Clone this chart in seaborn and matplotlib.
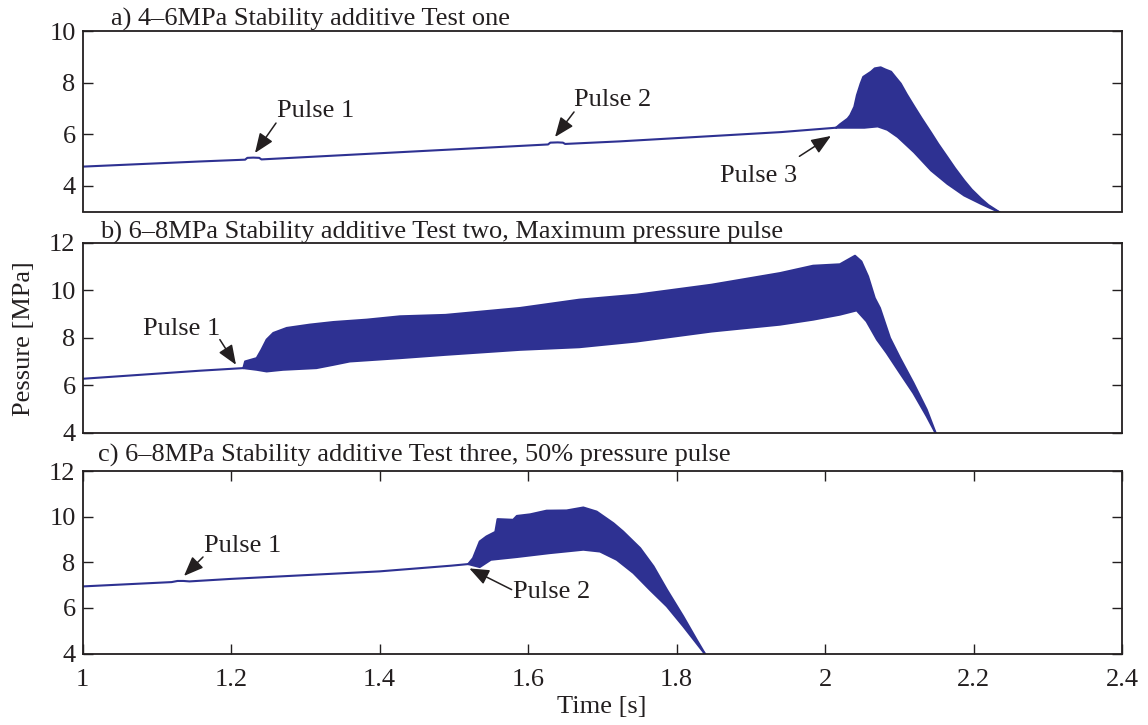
import numpy as np
import matplotlib
matplotlib.use("Agg")
import matplotlib.pyplot as plt
import seaborn as sns

# ---------------------------------------------------------------- data
TIME_TICKS = [1.0, 1.2, 1.4, 1.6, 1.8, 2.0, 2.2, 2.4]
TIME_LABELS = ["1", "1.2", "1.4", "1.6", "1.8", "2", "2.2", "2.4"]

PANEL_TITLES = [
    "a) 4\u20136MPa Stability additive Test one",
    "b) 6\u20138MPa Stability additive Test two, Maximum pressure pulse",
    "c) 6\u20138MPa Stability additive Test three, 50% pressure pulse",
]

# a) steady trace before the instability, then the oscillation envelope [s], [MPa]
a_base_t = [1.000, 1.158, 1.219, 1.222, 1.230, 1.238, 1.241, 1.627, 1.630, 1.640,
            1.647, 1.650, 1.724, 1.941, 2.015]
a_base_p = [4.74, 4.94, 5.01, 5.08, 5.09, 5.08, 5.02, 5.60, 5.67, 5.68,
            5.67, 5.62, 5.72, 6.08, 6.25]
a_up_t = [2.015, 2.0202, 2.0305, 2.034, 2.0395, 2.043, 2.048, 2.0515, 2.062, 2.067,
          2.075, 2.081, 2.089, 2.0946, 2.102, 2.110, 2.120, 2.130, 2.143, 2.1525,
          2.165, 2.175, 2.1875, 2.1976, 2.210, 2.220, 2.235]
a_up_p = [6.25, 6.38, 6.60, 6.73, 7.06, 7.51, 7.96, 8.22, 8.42, 8.55,
          8.59, 8.51, 8.42, 8.22, 7.96, 7.55, 7.08, 6.62, 6.05, 5.62,
          5.10, 4.68, 4.20, 3.85, 3.50, 3.25, 2.97]
a_lo_t = [2.015, 2.053, 2.071, 2.084, 2.098, 2.120, 2.143, 2.165, 2.1875, 2.210, 2.235]
a_lo_p = [6.25, 6.25, 6.30, 6.17, 5.89, 5.30, 4.59, 4.07, 3.62, 3.30, 2.97]

# b)
b_base_t = [1.000, 1.158, 1.2166]
b_base_p = [6.27, 6.61, 6.72]
b_up_t = [1.2166, 1.219, 1.2346, 1.241, 1.248, 1.257, 1.275, 1.306, 1.338, 1.383,
          1.4276, 1.489, 1.589, 1.669, 1.746, 1.847, 1.9394, 1.984, 2.020, 2.0404,
          2.049, 2.058, 2.067, 2.074, 2.0875, 2.101, 2.119, 2.137, 2.1495]
b_up_p = [6.72, 7.00, 7.14, 7.49, 7.92, 8.20, 8.41, 8.55, 8.66, 8.76,
          8.90, 8.96, 9.25, 9.60, 9.81, 10.23, 10.72, 11.03, 11.09, 11.45,
          11.21, 10.58, 9.67, 9.25, 7.99, 7.15, 6.10, 4.97, 3.95]
b_lo_t = [1.2166, 1.2346, 1.248, 1.270, 1.315, 1.338, 1.360, 1.4276, 1.489, 1.589,
          1.669, 1.746, 1.847, 1.9394, 1.984, 2.020, 2.0427, 2.056, 2.070, 2.083,
          2.101, 2.119, 2.137, 2.1495]
b_lo_p = [6.72, 6.65, 6.58, 6.65, 6.72, 6.86, 7.00, 7.14, 7.28, 7.49,
          7.60, 7.84, 8.26, 8.55, 8.76, 8.97, 9.15, 8.69, 7.92, 7.36,
          6.51, 5.67, 4.69, 3.95]

# c)
c_base_t = [1.000, 1.120, 1.128, 1.136, 1.144, 1.200, 1.400, 1.4966, 1.5195]
c_base_p = [6.94, 7.13, 7.18, 7.18, 7.16, 7.27, 7.60, 7.85, 7.92]
c_up_t = [1.5195, 1.526, 1.535, 1.544, 1.556, 1.559, 1.580, 1.585, 1.603, 1.625,
          1.652, 1.6745, 1.6925, 1.715, 1.728, 1.751, 1.769, 1.787, 1.809, 1.827, 1.839]
c_up_p = [7.92, 8.18, 8.91, 9.13, 9.33, 9.89, 9.86, 10.03, 10.10, 10.26,
          10.27, 10.40, 10.22, 9.71, 9.35, 8.62, 7.82, 6.80, 5.63, 4.61, 3.95]
c_lo_t = [1.5195, 1.535, 1.550, 1.585, 1.629, 1.6745, 1.697, 1.7195, 1.742, 1.764,
          1.787, 1.809, 1.839]
c_lo_p = [7.92, 7.79, 8.11, 8.23, 8.40, 8.55, 8.47, 8.11, 7.53, 6.80,
          6.07, 5.20, 3.95]

# pulse markers: label, text (left, baseline), arrow tail, arrow head
a_pulses = [("Pulse 1", 1.2615, 6.67, 1.2606, 6.43, 1.2323, 5.27),
            ("Pulse 2", 1.662, 7.08, 1.662, 6.86, 1.6364, 5.89),
            ("Pulse 3", 1.8586, 4.14, 1.9655, 5.14, 2.008, 5.93)]
b_pulses = [("Pulse 1", 1.081, 8.13, 1.185, 7.92, 1.2067, 6.86)]
c_pulses = [("Pulse 1", 1.163, 8.47, 1.1623, 8.23, 1.1367, 7.40),
            ("Pulse 2", 1.580, 6.43, 1.578, 6.80, 1.521, 7.73)]

a_yticks, b_yticks, c_yticks = [4, 6, 8, 10], [4, 6, 8, 10, 12], [4, 6, 8, 10, 12]

# ---------------------------------------------------------------- style
sns.set_theme(style="white")
plt.rcParams["font.family"] = ["Liberation Serif", "DejaVu Serif"]
INK = "#231F20"
TRACE = "#2E3192"
FS = 19

W_PX, H_PX = 1148, 725
fig = plt.figure(figsize=(W_PX / 100, H_PX / 100), dpi=100)


def box(left, top, right, bottom):
    return [left / W_PX, 1 - bottom / H_PX, (right - left) / W_PX, (bottom - top) / H_PX]


ax_a = fig.add_axes(box(82.5, 31, 1122, 211.5))
ax_b = fig.add_axes(box(82.5, 242.7, 1122, 432.7))
ax_c = fig.add_axes(box(82.5, 471, 1122, 653.5))


def draw_trace(ax, base_t, base_p, up_t, up_p, lo_t, lo_p):
    # filled oscillation band: along the upper envelope and back along the lower one
    ax.fill(np.r_[up_t, lo_t[::-1]], np.r_[up_p, lo_p[::-1]], color=TRACE, lw=0)
    for t, p in ((base_t, base_p), (up_t, up_p), (lo_t, lo_p)):
        sns.lineplot(x=t, y=p, ax=ax, color=TRACE, linewidth=1.5,
                     sort=False, estimator=None)


def mark_pulses(ax, pulses):
    for label, tx, ty, x0, y0, x1, y1 in pulses:
        ax.text(tx, ty, label, fontsize=FS, color=INK, ha="left", va="baseline")
        ax.annotate("", xy=(x1, y1), xytext=(x0, y0),
                    arrowprops=dict(arrowstyle="-|>,head_length=0.6,head_width=0.24",
                                    mutation_scale=20, color=INK, lw=1.1,
                                    shrinkA=0, shrinkB=0))


def style_axes(ax, ylim, yticks, show_x):
    ax.set_xlim(1.0, 2.4)
    ax.set_ylim(*ylim)
    ax.set_yticks(yticks)
    ax.set_yticklabels([str(v) for v in yticks])
    if show_x:
        ax.set_xticks(TIME_TICKS)
        ax.set_xticklabels(TIME_LABELS)
    else:
        ax.set_xticks([])
    ax.tick_params(axis="both", direction="in", length=7, width=1.0, colors=INK,
                   labelsize=FS, labelcolor=INK)
    ax.tick_params(axis="y", left=True, right=True, pad=5)
    ax.tick_params(axis="x", bottom=show_x, top=show_x, pad=11)
    for sp in ax.spines.values():
        sp.set_color(INK)
        sp.set_linewidth(1.3)
    ax.set_xlabel("")
    ax.set_ylabel("")


draw_trace(ax_a, a_base_t, a_base_p, a_up_t, a_up_p, a_lo_t, a_lo_p)
draw_trace(ax_b, b_base_t, b_base_p, b_up_t, b_up_p, b_lo_t, b_lo_p)
draw_trace(ax_c, c_base_t, c_base_p, c_up_t, c_up_p, c_lo_t, c_lo_p)

mark_pulses(ax_a, a_pulses)
mark_pulses(ax_b, b_pulses)
mark_pulses(ax_c, c_pulses)

style_axes(ax_a, (3, 10), a_yticks, False)
style_axes(ax_b, (4, 12), b_yticks, False)
style_axes(ax_c, (4, 12), c_yticks, True)

# panel headings, placed just above each box
for (x_px, base_px), title in zip([(111, 26), (100, 238.3), (98, 461.7)], PANEL_TITLES):
    fig.text(x_px / W_PX, 1 - base_px / H_PX, title, fontsize=FS, color=INK,
             ha="left", va="baseline")

fig.text(24 / W_PX, 1 - 338.5 / H_PX, "Pessure [MPa]", fontsize=FS, color=INK,
         rotation=90, ha="center", va="center")
fig.text(602 / W_PX, 1 - 707 / H_PX, "Time [s]", fontsize=FS, color=INK,
         ha="center", va="center")

fig.savefig("out.png", dpi=100)
